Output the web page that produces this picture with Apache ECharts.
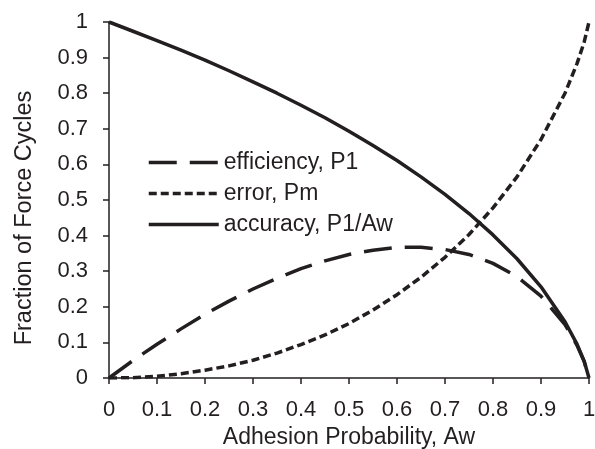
<!DOCTYPE html>
<html>
<head>
<meta charset="utf-8">
<script src="https://cdn.jsdelivr.net/npm/echarts@6/dist/echarts.min.js"></script>
<style>
html,body{margin:0;padding:0;background:#fff;}
#chart{width:595px;height:449px;}
</style>
</head>
<body>
<div id="chart"></div>
<script>
// values
var aw = [0, 0.05, 0.1, 0.15, 0.2, 0.25, 0.3, 0.35, 0.4, 0.45, 0.5, 0.55, 0.6, 0.65, 0.7, 0.75, 0.8, 0.85, 0.9, 0.95, 0.975, 0.99, 1];
var efficiency = [0, 0.049, 0.095, 0.138, 0.179, 0.216, 0.250, 0.280, 0.307, 0.329, 0.347, 0.359, 0.367, 0.367, 0.361, 0.347, 0.322, 0.285, 0.230, 0.150, 0.092, 0.046, 0];
var error = [0, 0.001, 0.005, 0.012, 0.022, 0.034, 0.050, 0.070, 0.094, 0.121, 0.153, 0.191, 0.234, 0.283, 0.339, 0.403, 0.478, 0.565, 0.670, 0.800, 0.883, 0.944, 1];
var accuracy = [1, 0.974, 0.948, 0.921, 0.893, 0.863, 0.832, 0.800, 0.766, 0.731, 0.693, 0.653, 0.611, 0.565, 0.516, 0.462, 0.402, 0.335, 0.256, 0.158, 0.095, 0.047, 0];
var seriesNames = ['efficiency, P1', 'error, Pm', 'accuracy, P1/Aw'];

var ink = '#231f20';
var font = 'Liberation Sans, Arial, sans-serif';

function pairs(ys) {
    var out = [];
    for (var i = 0; i < aw.length; i++) {
        out.push([aw[i], ys[i]]);
    }
    return out;
}

function lineSeries(name, ys, dash) {
    return {
        name: name,
        type: 'line',
        data: pairs(ys),
        symbol: 'none',
        smooth: false,
        silent: true,
        lineStyle: {color: ink, width: 3.5, type: dash},
        itemStyle: {color: ink}
    };
}

var myChart = echarts.init(document.getElementById('chart'), null, {renderer: 'canvas'});
myChart.setOption({
    animation: false,
    backgroundColor: '#fff',
    textStyle: {fontFamily: font, color: ink},
    grid: {left: 109, right: 6, top: 22, bottom: 71, containLabel: false, outerBoundsMode: 'none'},
    legend: {
        orient: 'vertical',
        left: 142,
        top: 146,
        itemWidth: 70,
        itemHeight: 14,
        itemGap: 8,
        itemTextGap: 5,
        itemStyle: {opacity: 0},
        lineStyle: {width: 3.5},
        textStyle: {fontSize: 23, color: ink, fontFamily: font},
        data: seriesNames
    },
    xAxis: {
        type: 'value',
        min: 0, max: 1, interval: 0.1,
        name: 'Adhesion Probability, Aw',
        nameLocation: 'middle',
        nameGap: 48,
        nameTextStyle: {fontSize: 23, color: ink},
        axisLine: {show: true, lineStyle: {color: ink, width: 1.5}},
        axisTick: {show: true, inside: false, length: 6, lineStyle: {color: ink, width: 1.5}},
        axisLabel: {fontSize: 22, color: ink, margin: 21},
        splitLine: {show: false}
    },
    yAxis: {
        type: 'value',
        min: 0, max: 1, interval: 0.1,
        name: 'Fraction of Force Cycles',
        nameLocation: 'middle',
        nameGap: 72,
        nameTextStyle: {fontSize: 23.5, color: ink, padding: [0, 36, 0, 0]},
        axisLine: {show: true, lineStyle: {color: ink, width: 1.5}},
        axisTick: {show: true, inside: false, length: 6, lineStyle: {color: ink, width: 1.5}},
        axisLabel: {fontSize: 22, color: ink, margin: 21},
        splitLine: {show: false}
    },
    series: [
        lineSeries(seriesNames[0], efficiency, [28, 13]),
        lineSeries(seriesNames[1], error, [8, 4]),
        lineSeries(seriesNames[2], accuracy, 'solid')
    ]
});
</script>
</body>
</html>
